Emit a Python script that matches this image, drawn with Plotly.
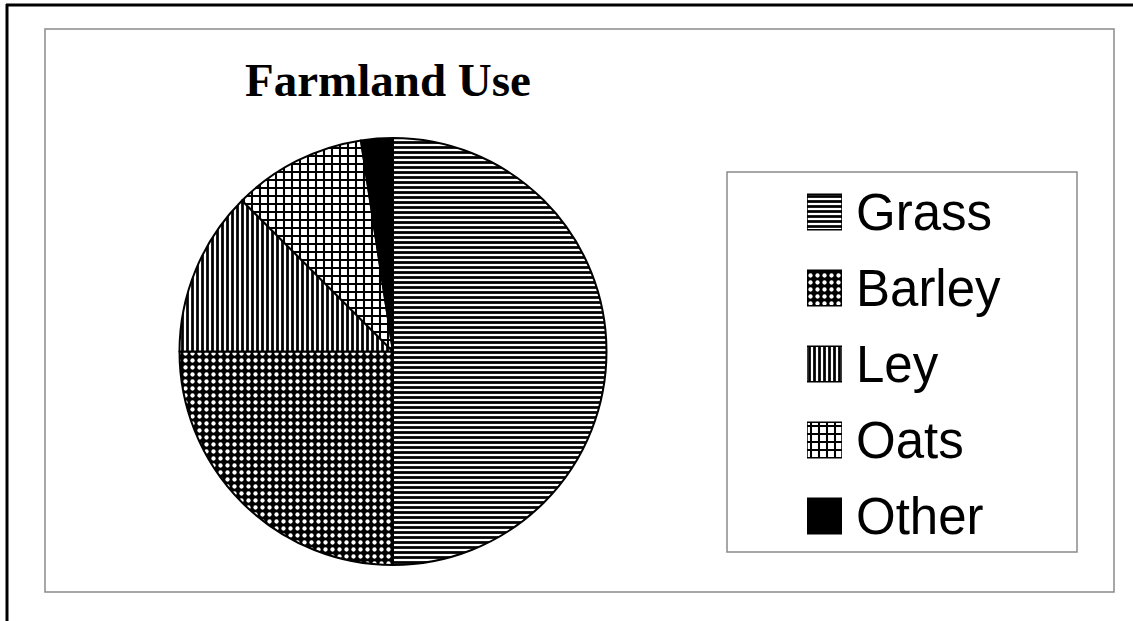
import plotly.graph_objects as go

# ---- data ----
categories = ["Grass", "Barley", "Ley", "Oats", "Other"]
shares = [50.0, 25.0, 12.5, 10.1, 2.4]
title_text = "Farmland Use"

# ---- styles ----
pattern_shapes = ["-", ".", "|", "+", ""]
pattern_fg = ["black", "white", "black", "black", "black"]
pattern_bg = ["white", "black", "white", "white", "black"]
pattern_size = [5, 7, 5, 8, 8]
pattern_solidity = [0.55, 0.3, 0.55, 0.45, 1.0]

W, H = 1133, 621

def px(x):
    return x / W

def py(y):
    return (H - y) / H

fig = go.Figure()

fig.add_trace(go.Pie(
    labels=categories,
    values=shares,
    sort=False,
    direction="clockwise",
    rotation=0,
    textinfo="none",
    showlegend=False,
    domain=dict(x=[px(393 - 214), px(393 + 214)], y=[py(565), py(138)]),
    marker=dict(
        colors=pattern_bg,
        line=dict(color="black", width=2),
        pattern=dict(
            shape=pattern_shapes,
            fgcolor=pattern_fg,
            bgcolor=pattern_bg,
            size=pattern_size,
            solidity=pattern_solidity,
            fillmode="replace",
        ),
    ),
))

# legend swatches drawn as a small bar chart, one trace per category
for i, cat in enumerate(categories):
    fig.add_trace(go.Bar(
        x=[1],
        y=[cat],
        orientation="h",
        width=0.47,
        showlegend=False,
        hoverinfo="skip",
        cliponaxis=False,
        xaxis="x",
        yaxis="y",
        marker=dict(
            color=pattern_bg[i],
            line=dict(color="black", width=1.5),
            pattern=dict(
                shape=pattern_shapes[i],
                fgcolor=pattern_fg[i],
                bgcolor=pattern_bg[i],
                size=pattern_size[i],
                solidity=pattern_solidity[i],
                fillmode="replace",
            ),
        ),
    ))

fig.update_layout(
    width=W,
    height=H,
    margin=dict(l=0, r=0, t=0, b=0),
    paper_bgcolor="white",
    plot_bgcolor="rgba(0,0,0,0)",
    barmode="overlay",
    xaxis=dict(domain=[px(807), px(842)], range=[0, 1], visible=False, fixedrange=True),
    yaxis=dict(
        domain=[py(554), py(174)],
        type="category",
        categoryorder="array",
        categoryarray=categories,
        range=[4.5, -0.5],
        side="right",
        showline=False,
        showgrid=False,
        zeroline=False,
        ticks="",
        ticklabelstandoff=13,
        tickfont=dict(family="Liberation Sans, Arial, sans-serif", size=51, color="black"),
        fixedrange=True,
    ),
    annotations=[
        dict(
            text=title_text,
            x=px(388), y=py(80),
            xref="paper", yref="paper",
            xanchor="center", yanchor="middle",
            showarrow=False,
            font=dict(family="Liberation Serif, Times New Roman, serif", size=47, color="black", weight="bold"),
        )
    ],
    shapes=[
        # outer frame (left and top edges)
        dict(type="line", xref="paper", yref="paper", x0=px(7), x1=px(7), y0=0, y1=py(4),
             line=dict(color="black", width=3)),
        dict(type="line", xref="paper", yref="paper", x0=px(6), x1=1, y0=py(5), y1=py(5),
             line=dict(color="black", width=3)),
        # inner chart frame
        dict(type="rect", xref="paper", yref="paper", x0=px(45), x1=px(1114), y0=py(592), y1=py(29),
             line=dict(color="#8a8a8a", width=1.5)),
        # legend box
        dict(type="rect", xref="paper", yref="paper", x0=px(727), x1=px(1077), y0=py(552), y1=py(172),
             line=dict(color="#8a8a8a", width=1.5)),
    ],
)

fig.write_html(
    "out.html",
    config={"displayModeBar": False, "staticPlot": False},
    post_script="document.body.style.margin='0';document.body.style.overflow='hidden';",
)
